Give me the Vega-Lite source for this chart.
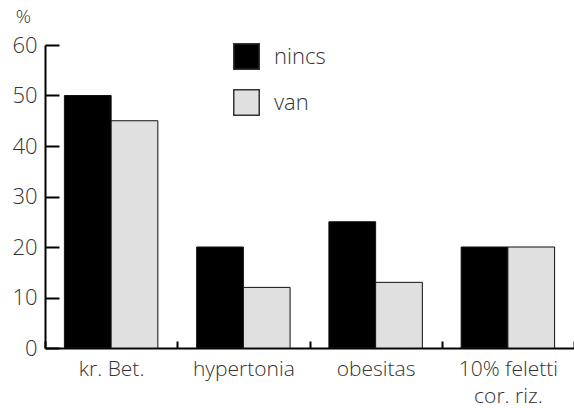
{
  "$schema": "https://vega.github.io/schema/vega-lite/v6.json",
  "autosize": {"type": "none"},
  "padding": {"left": 45, "top": 45, "right": 0, "bottom": 60},
  "width": 529,
  "height": 303,
  "background": "white",
  "config": {
    "view": {"stroke": null},
    "font": "Open Sans"
  },
  "data": {
    "values": [
      {"kategoria": "kr. Bet.", "csoport": "nincs", "ertek": 50},
      {"kategoria": "kr. Bet.", "csoport": "van", "ertek": 45},
      {"kategoria": "hypertonia", "csoport": "nincs", "ertek": 20},
      {"kategoria": "hypertonia", "csoport": "van", "ertek": 12},
      {"kategoria": "obesitas", "csoport": "nincs", "ertek": 25},
      {"kategoria": "obesitas", "csoport": "van", "ertek": 13},
      {"kategoria": "10% feletti cor. riz.", "csoport": "nincs", "ertek": 20},
      {"kategoria": "10% feletti cor. riz.", "csoport": "van", "ertek": 20}
    ]
  },
  "mark": {"type": "bar", "stroke": "#111", "strokeWidth": 1},
  "encoding": {
    "x": {
      "field": "kategoria",
      "type": "nominal",
      "sort": null,
      "scale": {"paddingInner": 0, "paddingOuter": 0},
      "axis": {
        "title": null,
        "labelAngle": 0,
        "labelFontSize": 21,
        "labelColor": "#333",
        "labelFontWeight": 300,
        "labelPadding": 17,
        "labelLineHeight": 27,
        "labelExpr": "datum.value == '10% feletti cor. riz.' ? ['10% feletti', 'cor. riz.'] : datum.label",
        "tickBand": "extent",
        "tickSize": -7,
        "tickWidth": 2,
        "tickColor": "#000",
        "domainColor": "#000",
        "domainWidth": 2,
        "grid": false
      }
    },
    "xOffset": {
      "field": "csoport",
      "type": "nominal",
      "scale": {"paddingInner": 0, "paddingOuter": 0.415}
    },
    "y": {
      "field": "ertek",
      "type": "quantitative",
      "scale": {"domain": [0, 60], "nice": false},
      "axis": {
        "values": [0, 10, 20, 30, 40, 50, 60],
        "title": "%",
        "titleAngle": 0,
        "titleX": -22,
        "titleY": -23,
        "titleBaseline": "alphabetic",
        "titleFontSize": 19,
        "titleFontWeight": 300,
        "titleColor": "#333",
        "titleAlign": "center",
        "labelFontSize": 22,
        "labelFontWeight": 300,
        "labelColor": "#333",
        "labelPadding": 22,
        "tickSize": -14,
        "tickWidth": 2,
        "tickColor": "#000",
        "domainColor": "#000",
        "domainWidth": 2,
        "grid": false
      }
    },
    "color": {
      "field": "csoport",
      "type": "nominal",
      "scale": {"domain": ["nincs", "van"], "range": ["#000000", "#e0e0e0"]},
      "legend": {
        "title": null,
        "orient": "none",
        "legendX": 188,
        "legendY": -2,
        "symbolType": "square",
        "symbolSize": 650,
        "symbolStrokeColor": "#333",
        "symbolStrokeWidth": 1.5,
        "labelFontSize": 22,
        "labelFontWeight": 300,
        "labelColor": "#333",
        "labelOffset": 14,
        "rowPadding": 13
      }
    }
  }
}
